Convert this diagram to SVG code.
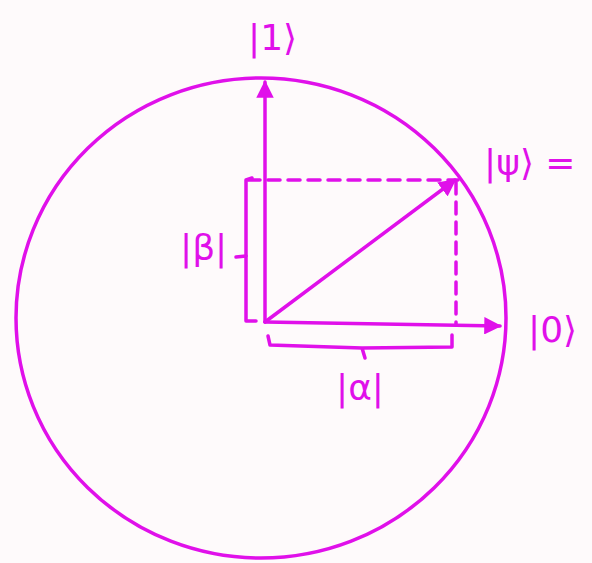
<svg xmlns="http://www.w3.org/2000/svg" width="592" height="563" viewBox="0 0 592 563">
<defs>
<style>
.s{stroke:#e010ea;stroke-width:3.5;fill:none;stroke-linecap:round;stroke-linejoin:round}
.d{stroke-dasharray:12 8}
.t{font-family:"DejaVu Sans","Liberation Sans",sans-serif;fill:#e010ea;font-size:36px}
</style>
<marker id="a" viewBox="0 0 10 10" refX="9" refY="5" markerWidth="5" markerHeight="5" orient="auto-start-reverse" markerUnits="strokeWidth">
<path d="M0,0 L10,5 L0,10 Z" fill="#e010ea"/>
</marker>
</defs>
<rect width="592" height="563" fill="#fefafb"/>
<g id="circle"><ellipse class="s" cx="261" cy="318" rx="245" ry="240"/></g>
<g id="connectors">
<line class="s" x1="265" y1="322" x2="265" y2="82" marker-end="url(#a)"/>
<line class="s" x1="265" y1="322" x2="500" y2="326" marker-end="url(#a)"/>
<line class="s" x1="265" y1="322" x2="455" y2="180" marker-end="url(#a)"/>
<line class="s d" x1="248" y1="180" x2="458" y2="180"/>
<line class="s d" x1="456" y1="182" x2="456" y2="324"/>
<path class="s" d="M252,178 L246,180 L246,321 L256,321"/>
<path class="s" d="M246,256 L236,257"/>
<path class="s" d="M268,336 L270,345 L362,348 L365,358 M362,348 L452,347 L452,335"/>
</g>
<g id="l1"><text class="t" x="248" y="50">|1⟩</text></g>
<g id="lpsi"><text class="t" x="484" y="175">|ψ⟩ =</text></g>
<g id="l0"><text class="t" x="528" y="342">|0⟩</text></g>
<g id="lb"><text class="t" x="180" y="260" font-size="30">|β|</text></g>
<g id="la"><text class="t" x="336" y="400" font-size="30">|α|</text></g>
</svg>
